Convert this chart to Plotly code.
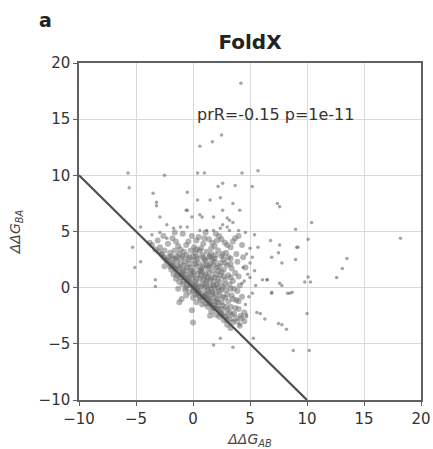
import plotly.graph_objects as go

# Dense core of the cloud (ddG_AB, ddG_BA)
core_points = [
    (-3.1,4.2),(-2.6,4.6),(-2.2,3.9),(-1.8,4.4),(-1.3,3.7),(-0.9,4.8),(-0.4,4.1),(0.1,3.6),(0.5,4.5),(0.9,3.9),
    (1.4,4.3),(1.9,3.7),(2.3,4.6),(2.8,4.0),(3.3,3.6),(-3.6,3.8),(-2.9,3.6),(-0.1,4.6),(1.1,4.9),(2.1,4.2),
    (3.7,4.4),(4.3,3.8),(-1.6,4.9),(0.7,3.5),(1.6,3.5),
    (-3.0,3.2),(-2.7,2.9),(-2.5,3.3),(-2.2,2.7),(-2.0,3.1),(-1.8,2.6),(-1.6,3.3),(-1.4,2.8),(-1.2,3.0),(-1.0,2.6),
    (-0.8,3.2),(-0.6,2.9),(-0.4,2.5),(-0.2,3.3),(0.0,2.8),(0.2,3.1),(0.4,2.6),(0.6,3.3),(0.8,2.9),(1.0,2.5),
    (1.2,3.2),(1.4,2.7),(1.6,3.0),(1.9,2.6),(2.2,3.3),(2.5,2.8),(2.9,3.1),(3.3,2.6),(3.8,3.0),(4.4,2.7),
    (-2.4,2.5),(-1.1,3.4),(0.3,3.4),(1.7,2.5),(2.7,2.5),
    (-2.2,2.3),(-2.0,1.9),(-1.8,2.2),(-1.6,1.7),(-1.4,2.4),(-1.3,1.9),(-1.1,2.1),(-0.9,1.6),(-0.7,2.3),(-0.5,1.8),
    (-0.3,2.1),(-0.1,1.5),(0.1,2.4),(0.3,1.9),(0.5,2.2),(0.7,1.6),(0.9,2.0),(1.1,2.4),(1.3,1.7),(1.5,2.1),
    (1.7,1.5),(1.9,2.3),(2.1,1.8),(2.4,2.2),(2.7,1.6),(3.0,2.0),(3.4,1.7),(3.9,2.3),(4.6,1.8),(-1.9,1.6),
    (-0.6,1.5),(0.6,1.5),(1.2,2.0),(2.2,1.5),(-2.5,1.9),
    (-1.7,1.2),(-1.5,0.8),(-1.3,1.3),(-1.1,0.9),(-0.9,1.4),(-0.8,0.6),(-0.6,1.1),(-0.4,0.7),(-0.2,1.3),(0.0,0.9),
    (0.2,0.5),(0.4,1.2),(0.6,0.8),(0.8,1.4),(1.0,1.0),(1.2,0.6),(1.4,1.3),(1.6,0.9),(1.8,0.5),(2.0,1.2),
    (2.2,0.8),(2.5,1.4),(2.8,0.7),(3.1,1.1),(3.5,0.6),(4.0,1.0),(-1.2,0.5),(0.1,1.4),(1.3,0.9),(2.3,0.5),
    (-0.3,0.5),(0.9,0.7),
    (-0.9,0.3),(-0.7,-0.2),(-0.5,0.2),(-0.3,-0.4),(-0.1,0.4),(0.1,-0.1),(0.3,0.3),(0.5,-0.3),(0.7,0.1),(0.9,-0.5),
    (1.1,0.4),(1.3,-0.2),(1.5,0.2),(1.7,-0.4),(1.9,0.0),(2.1,0.3),(2.3,-0.3),(2.6,0.1),(2.9,-0.2),(3.2,0.3),
    (3.6,-0.1),(4.1,0.2),(0.4,-0.5),(1.0,0.0),(2.0,-0.5),(-1.3,-0.1),(0.2,0.1),(1.6,-0.1),
    (-0.6,-0.7),(0.0,-0.9),(0.3,-1.3),(0.5,-0.7),(0.7,-1.1),(0.9,-0.8),(1.1,-1.4),(1.3,-0.9),(1.5,-1.2),(1.7,-0.6),
    (1.9,-1.5),(2.1,-1.0),(2.3,-0.7),(2.5,-1.3),(2.8,-0.9),(3.1,-1.2),(3.4,-0.7),(3.8,-1.1),(4.3,-0.8),(1.2,-0.6),
    (2.0,-1.2),(0.8,-1.5),(-1.0,-1.0),(-1.2,-1.3),
    (1.3,-1.7),(1.6,-2.1),(1.8,-1.8),(2.0,-2.4),(2.2,-1.9),(2.4,-2.2),(2.6,-1.6),(2.8,-2.5),(3.0,-2.0),(3.3,-1.7),
    (3.6,-2.3),(4.0,-1.9),(4.5,-2.2),(2.3,-2.6),(1.5,-2.5),(-0.1,-2.0),
    (2.7,-2.9),(3.0,-3.3),(3.2,-2.8),(3.5,-3.1),(3.8,-2.7),(4.1,-3.4),(4.5,-3.0),(3.3,-3.6),(0.0,-3.1),
    # second layer filling the darkest part of the cloud
    (-1.9,2.8),(-1.5,2.6),(-0.9,2.8),(-0.3,2.7),(0.3,2.75),(0.9,2.7),(1.5,2.8),(2.0,2.9),(2.6,3.0),(3.1,2.7),
    (-1.7,2.0),(-1.2,1.7),(-0.8,2.0),(-0.2,1.8),(0.2,2.1),(0.8,1.8),(1.4,1.9),(1.8,2.0),(2.3,1.9),(2.8,2.2),(3.3,2.1),
    (-1.4,1.1),(-1.0,1.2),(-0.5,0.9),(-0.1,1.1),(0.3,0.8),(0.7,1.1),(1.1,1.2),(1.5,0.7),(1.9,0.9),(2.4,1.1),
    (2.7,1.0),(3.3,0.9),(3.7,1.3),
    (-0.6,0.0),(-0.2,0.2),(0.0,-0.3),(0.4,0.0),(0.8,0.3),(1.2,0.1),(1.4,-0.4),(1.8,0.2),(2.2,0.0),(2.5,-0.2),
    (2.8,0.3),(3.3,-0.1),(3.9,-0.3),
    (0.2,-0.6),(0.6,-0.9),(1.0,-0.7),(1.4,-1.0),(1.8,-0.9),(2.2,-1.3),(2.6,-0.8),(3.0,-0.6),(3.5,-1.0),(4.0,-1.2),
    (1.4,-1.4),(1.7,-1.6),(2.1,-1.7),(2.5,-1.9),(2.9,-1.7),(3.2,-2.2),(3.7,-1.8),(4.2,-2.5),
    (2.5,-2.3),(2.9,-2.6),(3.4,-2.4),(3.9,-3.0),(4.3,-2.7),
    (-2.8,3.0),(-2.3,2.4),(-2.6,2.7),(-3.3,3.4),(-3.8,4.0),(-2.0,2.1),(-1.5,1.6),(-1.0,1.1),(-0.5,0.6),(0.05,0.05),
    (0.5,-0.4),(1.0,-0.9),(1.5,-1.4),(2.0,-1.9),(2.5,-2.4),(3.0,-2.9),(-1.8,1.9),(-0.8,0.9),(0.3,-0.2),(1.2,-1.1),
    (0.3,4.2),(1.0,4.4),(1.7,4.0),(2.5,4.3),(3.0,3.8),(3.5,4.1),(4.0,4.6),(2.0,4.8),(-0.6,3.8),(-1.5,4.1),
]

# Sparser points around the core and outliers
outer_points = [
    (4.8,1.2),(4.5,0.6),(5.4,1.5),(4.9,-0.8),(4.6,-1.5),(5.5,0.2),(5.0,2.2),(4.7,3.0),
    (5.0,3.5),(5.7,3.6),(5.2,2.7),(6.8,4.2),(7.6,3.8),(6.9,2.7),(7.5,3.1),(7.8,2.2),(9.0,2.5),(9.2,3.6),
    (6.1,0.7),(6.5,0.7),(6.9,-0.4),(7.6,0.4),(8.3,-0.5),(8.7,-0.4),(5.2,-0.5),(5.0,0.9),(4.4,1.8),(4.3,0.4),
    (5.9,-2.3),(4.7,-2.6),(5.4,4.7),(4.6,4.9),(3.5,5.8),(4.0,5.1),(2.6,5.6),(3.2,5.1),
    (0.6,12.6),(1.7,13.0),(2.5,13.6),(0.4,10.2),(1.0,10.2),(4.3,10.2),(5.7,10.4),(5.2,9.0),(2.6,9.3),(3.7,9.1),
    (2.2,9.0),(-0.5,8.5),(0.4,7.8),(1.5,7.8),(2.4,8.0),(2.6,6.9),(3.5,7.5),(4.1,6.9),(-0.5,6.9),(0.6,6.5),
    (1.8,6.3),(3.0,6.2),(3.2,6.0),(4.2,18.2),
    (-5.7,10.2),(-5.6,8.9),(-3.5,8.4),(-3.2,7.6),(-3.2,7.3),(-2.5,10.0),(-2.9,6.3),(-5.3,3.6),(-5.1,1.8),(-4.6,2.3),
    (-3.3,0.7),(-3.3,0.1),(-4.6,5.4),(-3.6,4.7),(-2.9,4.9),(-2.3,4.4),(-1.7,5.3),(-1.1,5.4),(-0.5,5.4),(-2.3,5.6),
    (0.6,5.1),(1.8,5.1),(1.2,5.1),(2.4,5.3),(3.0,5.4),(-0.6,6.9),(-0.1,6.3),(0.8,6.3),
    (10.1,0.95),(10.3,0.5),(9.8,0.5),(12.6,0.9),(13.1,1.7),(13.5,2.6),(18.2,4.4),(10.4,5.8),(9.0,5.2),(10.1,4.3),
    (7.4,7.5),(7.6,7.2),(9.1,3.6),(10.0,-2.3),(6.3,-2.8),(7.5,-3.2),(7.8,-3.3),(8.2,-3.7),(8.8,-5.6),(10.2,-5.6),
    (1.8,-5.1),(2.4,-4.5),(3.5,-5.3),(5.3,-4.5),(5.6,-2.2),(3.5,-2.9),(4.1,-3.3),(4.7,-2.4),(6.9,-0.5),(7.8,0.2),
    (8.5,-0.5),(6.5,0.7),
]

core_ab = [p[0] for p in core_points]
core_ba = [p[1] for p in core_points]
outer_ab = [p[0] for p in outer_points]
outer_ba = [p[1] for p in outer_points]

diag_x = [-10, 10]
diag_y = [10, -10]

axis_ticks = [-10, -5, 0, 5, 10, 15, 20]
title_text = "FoldX"
panel_label = "a"
stats_text = "prR=-0.15 p=1e-11"
stats_pos = (7.2, 15.4)

FONT = "DejaVu Sans"
W, H = 433, 449
ML, MR, MT, MB = 79, 12, 63, 49
PW, PH = W - ML - MR, H - MT - MB

fig = go.Figure()
fig.add_trace(go.Scatter(
    x=outer_ab, y=outer_ba, mode="markers",
    marker=dict(size=3.5, color="rgba(105,105,105,0.6)", line=dict(width=0)),
    showlegend=False, hoverinfo="skip"))
fig.add_trace(go.Scatter(
    x=core_ab, y=core_ba, mode="markers",
    marker=dict(size=6, color="rgba(105,105,105,0.5)", line=dict(width=0)),
    showlegend=False, hoverinfo="skip"))
fig.add_trace(go.Scatter(
    x=diag_x, y=diag_y, mode="lines",
    line=dict(color="#4d4d4d", width=2.2),
    showlegend=False, hoverinfo="skip"))

axis_common = dict(
    range=[-10, 20], tickvals=axis_ticks, showgrid=True, gridcolor="#d9d9d9", gridwidth=1.2,
    zeroline=False, showline=True, linecolor="#606060", linewidth=1.5, mirror=True,
    ticks="outside", ticklen=4, tickcolor="#606060", automargin=False,
    tickfont=dict(family=FONT, size=15, color="#333333"),
)

fig.update_layout(
    width=W, height=H,
    margin=dict(l=ML, r=MR, t=MT, b=MB),
    paper_bgcolor="white", plot_bgcolor="white",
    font=dict(family=FONT, color="#333333"),
    title=dict(text="<b>" + title_text + "</b>", x=(ML + ML + PW) / 2 / W, xanchor="center",
               y=1 - 42 / H, yanchor="middle", font=dict(family=FONT, size=20, color="#222222")),
    xaxis=dict(axis_common, title=dict(text="<i>ΔΔG</i><sub><i>AB</i></sub>",
                                       font=dict(family=FONT, size=14, color="#444444"))),
    yaxis=dict(axis_common, title=dict(text="<i>ΔΔG</i><sub><i>BA</i></sub>",
                                       font=dict(family=FONT, size=14, color="#444444"))),
    annotations=[
        dict(text=stats_text, x=stats_pos[0], y=stats_pos[1], xref="x", yref="y",
             showarrow=False, font=dict(family=FONT, size=16, color="#333333")),
        dict(text="<b>" + panel_label + "</b>", x=(45 - ML) / PW, y=(H - MB - 20) / PH,
             xref="paper", yref="paper", xanchor="center", yanchor="middle", showarrow=False,
             font=dict(family=FONT, size=19, color="#222222")),
    ],
)

fig.write_html("out.html")
